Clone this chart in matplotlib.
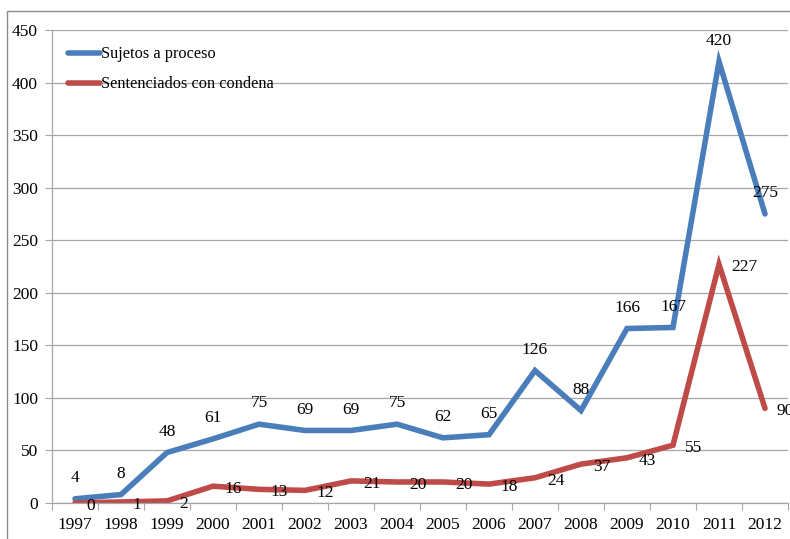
#!/usr/bin/env python3
"""Sujetos a proceso vs. sentenciados con condena, 1997-2012."""
import matplotlib
matplotlib.use("Agg")
import matplotlib.pyplot as plt
from matplotlib.patches import Rectangle

years = ["1997", "1998", "1999", "2000", "2001", "2002", "2003", "2004",
         "2005", "2006", "2007", "2008", "2009", "2010", "2011", "2012"]
sujetos = [4, 8, 48, 61, 75, 69, 69, 75, 62, 65, 126, 88, 166, 167, 420, 275]
sentenciados = [0, 1, 2, 16, 13, 12, 21, 20, 20, 18, 24, 37, 43, 55, 227, 90]
y_ticks = list(range(0, 451, 50))

BLUE = "#4a7ebb"
RED = "#be4b48"
GRID = "#a6a6a6"

plt.rcParams["font.family"] = ["Liberation Serif", "DejaVu Serif"]

fig = plt.figure(figsize=(7.9, 5.39), dpi=100)
ax = fig.add_axes([52 / 790, 1 - 503 / 539, 736 / 790, (503 - 30) / 539])

# outer chart frame
fig.patches.append(Rectangle((7 / 790, -0.05), 1.2, 1 - 11 / 539 + 0.05,
                             transform=fig.transFigure, fill=False,
                             edgecolor="#8c8c8c", linewidth=1.0))

x = list(range(len(years)))
ax.plot(x, sujetos, color=BLUE, lw=4, solid_capstyle="round",
        solid_joinstyle="miter", label="Sujetos a proceso")
ax.plot(x, sentenciados, color=RED, lw=4, solid_capstyle="round",
        solid_joinstyle="miter", label="Sentenciados con condena")

for xi, v in zip(x, sujetos):
    ax.annotate(str(v), (xi, v), xytext=(0, 15), textcoords="offset points",
                ha="center", va="center", fontsize=12.5)
for xi, v in zip(x, sentenciados):
    ax.annotate(str(v), (xi, v), xytext=(8.5, -2), textcoords="offset points",
                ha="left", va="center", fontsize=12.5, annotation_clip=False)

ax.set_xlim(-0.5, len(years) - 0.5)
ax.set_ylim(0, 450)
ax.set_yticks(y_ticks)
ax.tick_params(axis="y", length=5, width=0.8, color=GRID, labelsize=12.5, pad=5)
ax.set_xticks(x)
ax.set_xticklabels(years)
ax.tick_params(axis="x", length=0, labelsize=12.5, pad=10)
# tick marks sit between categories
ax.set_xticks([i - 0.5 for i in range(len(years) + 1)], minor=True)
ax.tick_params(axis="x", which="minor", length=5, width=0.8, color=GRID)

ax.grid(axis="y", color=GRID, linewidth=0.9)
ax.set_axisbelow(True)
for side in ("top", "right"):
    ax.spines[side].set_visible(False)
for side in ("left", "bottom"):
    ax.spines[side].set_color(GRID)
    ax.spines[side].set_linewidth(0.9)

ax.legend(loc="upper left", bbox_to_anchor=(0.0, 1.0), frameon=False,
          fontsize=11.8, handlelength=1.9, handletextpad=0.1, labelspacing=0.85,
          borderaxespad=0.6)

fig.savefig("out.png", dpi=100)
